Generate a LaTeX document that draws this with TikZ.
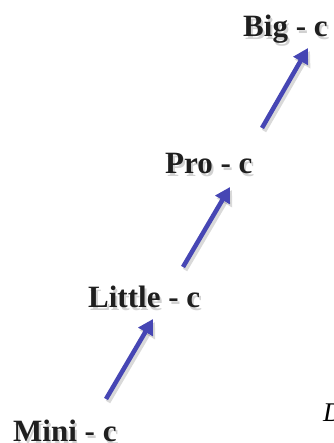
\documentclass[tikz,border=0pt]{standalone}
\usepackage{fontspec}
\setmainfont{Liberation Serif}
\usetikzlibrary{arrows.meta}
\definecolor{arrowblue}{RGB}{70,70,180}
\tikzset{
  lbl/.style={anchor=base west, inner sep=0pt, font=\bfseries\fontsize{31}{31}\selectfont, text=black!88},
  lblshadow/.style={lbl, text=black, opacity=0.18},
  uparrow/.style={draw=arrowblue, line width=4.5pt, -{Triangle[length=15pt,width=16pt]}},
  arrowshadow/.style={draw=black, opacity=0.15, line width=5pt, -{Triangle[length=15pt,width=17pt]}}
}
\begin{document}
\begin{tikzpicture}[x=1pt,y=-1pt]
\useasboundingbox (0,0) rectangle (333,443);
\clip (0,0) rectangle (333,443);
% shadows
\node[lblshadow] at (245,40) {Big - c};
\node[lblshadow] at (167,177) {Pro - c};
\node[lblshadow] at (90,310) {Little - c};
\node[lblshadow] at (15,444) {Mini - c};
% labels
\node[lbl] (big) at (243,37) {Big - c};
\node[lbl] (pro) at (165,174) {Pro - c};
\node[lbl] (little) at (88,307) {Little - c};
\node[lbl] (mini) at (13,441) {Mini - c};
\node[anchor=base west, inner sep=0pt, font=\itshape\fontsize{27}{27}\selectfont] (cut) at (323,421) {D};
% arrow end points
\coordinate (a1s) at (106,399); \coordinate (a1e) at (153,319);
\coordinate (a2s) at (183,267); \coordinate (a2e) at (230,187);
\coordinate (a3s) at (262,128); \coordinate (a3e) at (308,48);
\foreach \s/\e in {a1s/a1e,a2s/a2e,a3s/a3e}{
  \draw[arrowshadow] ([shift={(2,3)}]\s) -- ([shift={(2,3)}]\e);
  \draw[uparrow] (\s) -- (\e);
}
\end{tikzpicture}
\end{document}
